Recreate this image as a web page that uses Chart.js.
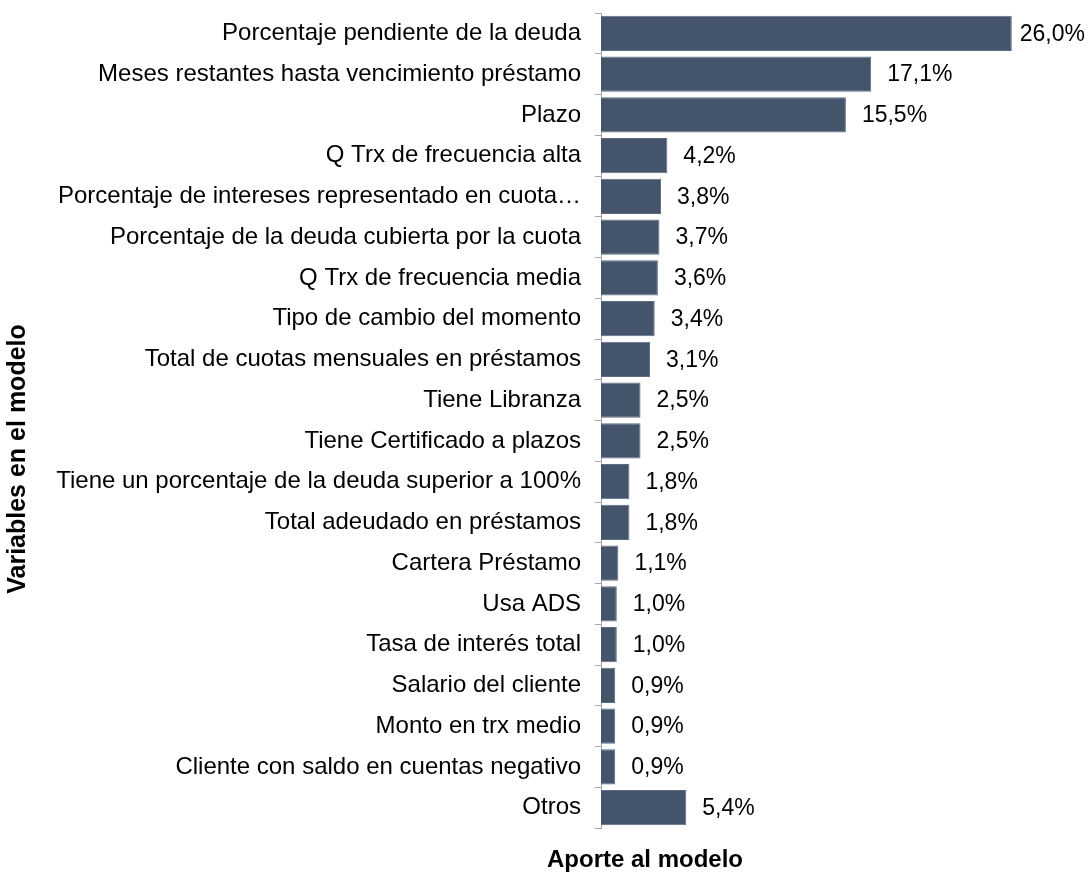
<!DOCTYPE html>
<html>
<head>
<meta charset="utf-8">
<script src="https://cdn.jsdelivr.net/npm/chart.js@4/dist/chart.umd.min.js"></script>
<style>
    body { margin: 0; background: #fff; }
    #wrap { width: 1091px; height: 879px; position: relative; }
</style>
</head>
<body>
<div id="wrap"><canvas id="barChartCanvas"></canvas></div>
<script>
const variables = [
    'Porcentaje pendiente de la deuda',
    'Meses restantes hasta vencimiento préstamo',
    'Plazo',
    'Q Trx de frecuencia alta',
    'Porcentaje de intereses representado en cuota…',
    'Porcentaje de la deuda cubierta por la cuota',
    'Q Trx de frecuencia media',
    'Tipo de cambio del momento',
    'Total de cuotas mensuales en préstamos',
    'Tiene Libranza',
    'Tiene Certificado a plazos',
    'Tiene un porcentaje de la deuda superior a 100%',
    'Total adeudado en préstamos',
    'Cartera Préstamo',
    'Usa ADS',
    'Tasa de interés total',
    'Salario del cliente',
    'Monto en trx medio',
    'Cliente con saldo en cuentas negativo',
    'Otros'
];
const aporte = [26.0, 17.1, 15.5, 4.2, 3.8, 3.7, 3.6, 3.4, 3.1, 2.5, 2.5, 1.8, 1.8, 1.1, 1.0, 1.0, 0.9, 0.9, 0.9, 5.4];

const yTitle = 'Variables en el modelo';
const xTitle = 'Aporte al modelo';

const FONT = "'Liberation Sans', Arial, sans-serif";

// value labels at the end of every bar, comma decimals
let valueLabels = {
    id: 'valueLabels',
    afterDatasetsDraw: function (chart) {
        let ctx = chart.ctx;
        let meta = chart.getDatasetMeta(0);
        ctx.save();
        ctx.font = '23px ' + FONT;
        ctx.fillStyle = '#000';
        ctx.textBaseline = 'middle';
        meta.data.forEach(function (bar, i) {
            let txt = aporte[i].toFixed(1).replace('.', ',') + '%';
            let w = ctx.measureText(txt).width;
            let x = Math.min(bar.x + 16, chart.width - w - 6);
            ctx.fillText(txt, x, bar.y + 1);
        });
        ctx.restore();
    }
};

// axis titles, placed like the original layout
let axisTitles = {
    id: 'axisTitles',
    afterDraw: function (chart) {
        let ctx = chart.ctx;
        ctx.save();
        ctx.fillStyle = '#000';
        ctx.textAlign = 'center';
        ctx.textBaseline = 'middle';
        ctx.font = 'bold 24px ' + FONT;
        ctx.fillText(xTitle, 645, chart.height - 19);
        ctx.font = 'bold 25px ' + FONT;
        ctx.translate(18, 459);
        ctx.rotate(-Math.PI / 2);
        ctx.fillText(yTitle, 0, 0);
        ctx.restore();
    }
};

let barChartDraw = function () {
    let ctx = document.getElementById('barChartCanvas').getContext('2d');

    window.barChart = new Chart(ctx, {
        type: 'bar',
        data: {
            labels: variables,
            datasets: [{
                data: aporte,
                backgroundColor: '#44546A',
                borderColor: '#5f6d82',
                borderWidth: 1,
                barPercentage: 0.86,
                categoryPercentage: 1
            }]
        },
        options: {
            indexAxis: 'y',
            responsive: true,
            maintainAspectRatio: false,
            animation: false,
            layout: { padding: { top: 13, bottom: 51, right: 16, left: 0 } },
            plugins: {
                legend: { display: false },
                tooltip: { enabled: false }
            },
            scales: {
                x: {
                    display: false,
                    min: 0,
                    max: 30
                },
                y: {
                    afterFit: function (scale) {
                        scale.width = 601;
                        // no extra room for half label heights
                        scale.paddingTop = 0;
                        scale.paddingBottom = 0;
                    },
                    grid: {
                        offset: true,
                        drawOnChartArea: false,
                        tickLength: 6,
                        color: '#a6a6a6'
                    },
                    border: { display: true, color: '#a6a6a6' },
                    ticks: {
                        padding: 14,
                        color: '#000',
                        font: { family: FONT, size: 24 }
                    }
                }
            }
        },
        plugins: [valueLabels, axisTitles]
    });
};

window.onload = function () {
    barChartDraw();
};
</script>
</body>
</html>
